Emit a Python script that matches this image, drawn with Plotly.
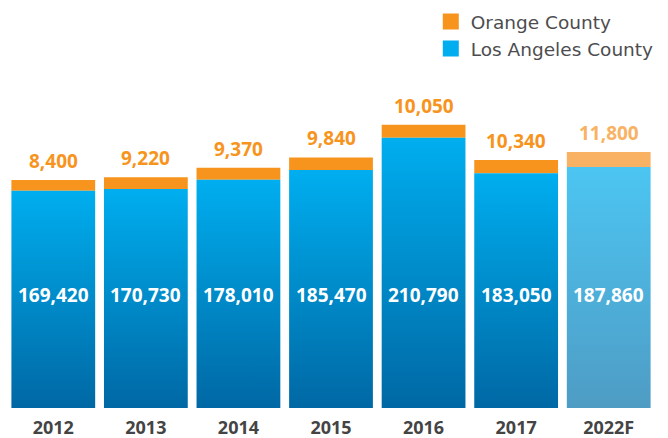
import plotly.graph_objects as go

years = ["2012", "2013", "2014", "2015", "2016", "2017", "2022F"]
la_county = [169420, 170730, 178010, 185470, 210790, 183050, 187860]
orange_county = [8400, 9220, 9370, 9840, 10050, 10340, 11800]
is_forecast = [False, False, False, False, False, False, True]

BLUE_TOP, BLUE_BOTTOM = "#00AEEF", "#0068A4"
BLUE_TOP_F, BLUE_BOTTOM_F = "#4CC5F2", "#4E9CC4"
ORANGE, ORANGE_F = "#F7941D", "#F9B263"
FONT = "Open Sans"
W = 0.905

fig = go.Figure()
pos = list(range(len(years)))

for i, (v, f) in enumerate(zip(la_county, is_forecast)):
    x0, x1 = i - W / 2, i + W / 2
    top, bot = (BLUE_TOP_F, BLUE_BOTTOM_F) if f else (BLUE_TOP, BLUE_BOTTOM)
    fig.add_trace(go.Scatter(
        x=[x0, x1, x1, x0, x0], y=[0, 0, v, v, 0],
        mode="lines", fill="toself", line=dict(width=0),
        fillgradient=dict(type="vertical", colorscale=[[0, bot], [1, top]]),
        showlegend=False, hoverinfo="skip"))

fig.add_trace(go.Bar(
    x=pos, y=orange_county, base=la_county, width=W,
    marker=dict(color=[ORANGE_F if f else ORANGE for f in is_forecast], line=dict(width=0)),
    showlegend=False))

fig.add_trace(go.Scatter(x=[None], y=[None], mode="markers", name="Orange County",
                         marker=dict(symbol="square", size=16, color=ORANGE)))
fig.add_trace(go.Scatter(x=[None], y=[None], mode="markers", name="Los Angeles County",
                         marker=dict(symbol="square", size=16, color=BLUE_TOP)))

for i, (v, o, f) in enumerate(zip(la_county, orange_county, is_forecast)):
    fig.add_annotation(x=i, y=v + o, text=f"{o:,}", showarrow=False, yanchor="bottom",
                       yshift=4, font=dict(family=FONT, size=19, color=ORANGE_F if f else ORANGE, weight="bold"))
    fig.add_annotation(x=i, y=88000, text=f"{v:,}", showarrow=False,
                       font=dict(family=FONT, size=19, color="white", weight="bold"))

fig.update_layout(
    width=668, height=438,
    margin=dict(l=7, r=13, t=0, b=30, autoexpand=False),
    plot_bgcolor="white", paper_bgcolor="white",
    xaxis=dict(range=[-0.5, 6.5], tickvals=pos, ticktext=years, showgrid=False, zeroline=False,
               showline=False, ticks="outside", ticklen=3, tickcolor="rgba(0,0,0,0)", automargin=False,
               tickfont=dict(family=FONT, size=18, color="#444444", weight="bold")),
    yaxis=dict(range=[0, 318100], visible=False, showgrid=False, zeroline=False, automargin=False),
    legend=dict(x=0.654, y=0.993, xanchor="left", yanchor="top", traceorder="normal",
                font=dict(family="DejaVu Sans", size=18.5, color="#4D4D4F"),
                bgcolor="rgba(0,0,0,0)", tracegroupgap=0),
    showlegend=True,
)

fig.write_html("out.html", config={"displayModeBar": False},
               post_script="document.body.style.margin='0';document.body.style.overflow='hidden';")
